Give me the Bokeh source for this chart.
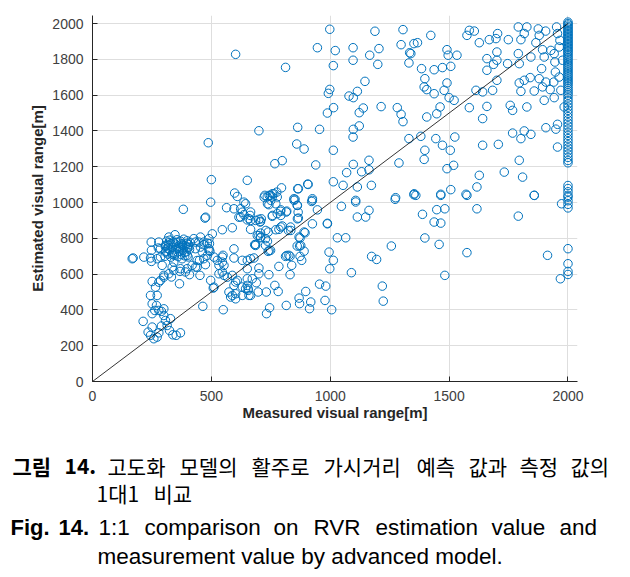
from bokeh.plotting import figure
from bokeh.layouts import column
from bokeh.models import Range1d, FixedTicker, ColumnDataSource
from bokeh.core.properties import value
from bokeh.embed import file_html
from bokeh.resources import INLINE

# ---------------- data ----------------
# measured (x) / estimated (y) in metres, grouped by region
meas_low = [602, 487, 500, 651, 598, 609, 637, 497, 476, 564, 595, 616, 630, 651, 546, 588, 504, 595, 483,
            382, 473, 623, 637, 630, 595, 549, 546, 532, 546, 553, 588, 602, 630, 655, 574, 602, 630, 581,
            508, 464, 550, 167, 171, 247, 248, 244, 248, 216, 277, 286, 293, 300, 286, 251, 244, 272, 269,
            262, 290, 300, 251, 213, 251, 234, 244, 258, 272, 279, 314, 324, 338, 352, 370, 290, 328, 307,
            332, 342, 366, 368, 391, 408, 452, 433, 450, 475, 483, 490, 462, 469, 447, 426, 405, 377, 347,
            321, 279, 307, 511, 525, 492, 623, 609, 588, 567, 595, 497, 511, 433, 468, 490, 494, 468, 440,
            419, 440, 398, 370, 335, 321, 300, 279, 265, 251, 279, 300, 286, 307, 272, 342, 377, 398, 433,
            454, 490, 454, 546, 553, 532, 602]
est_low = [1828, 1334, 1128, 1124, 1053, 1034, 1002, 1002, 918, 971, 965, 918, 946, 903, 848, 859, 825, 741, 773,
           962, 913, 965, 932, 677, 690, 705, 667, 649, 612, 593, 593, 556, 528, 518, 500, 490, 481, 472,
           522, 420, 401, 686, 690, 779, 733, 690, 671, 695, 746, 695, 649, 593, 565, 559, 481, 481, 425,
           397, 392, 369, 379, 336, 304, 276, 258, 239, 248, 272, 313, 285, 261, 258, 272, 310, 351, 341,
           584, 621, 546, 615, 612, 597, 593, 639, 677, 653, 705, 733, 723, 764, 779, 798, 751, 761, 820,
           807, 779, 761, 695, 677, 770, 919, 565, 481, 583, 537, 565, 527, 779, 779, 742, 727, 686, 676,
           649, 639, 630, 630, 639, 602, 583, 555, 527, 434, 397, 406, 742, 723, 686, 667, 686, 704, 742,
           751, 798, 807, 695, 649, 602, 462]

# dense cluster around 300-410 m measured
meas_cluster = [305, 318, 330, 345, 360, 372, 388, 402, 310, 325, 338, 352, 366, 380, 395, 408,
                306, 320, 335, 348, 362, 376, 390, 404, 312, 326, 340, 355, 370, 384, 398, 410,
                316, 344, 372, 400, 330, 386, 322, 352, 380, 396, 336, 364]
est_cluster = [700, 712, 695, 705, 698, 710, 702, 696, 728, 735, 722, 740, 728, 735, 725, 738,
               755, 762, 750, 768, 756, 770, 758, 765, 785, 790, 780, 792, 784, 795, 786, 778,
               745, 715, 748, 750, 770, 720, 775, 778, 762, 772, 710, 742]

meas_mid = [665, 665, 693, 665, 682, 700, 651, 644, 665, 722, 743, 757, 775, 795, 750, 736, 771, 792, 817,
            757, 792, 848, 866, 907, 862, 865, 925, 946, 862, 925, 988, 707, 729, 771, 792, 834, 707, 736,
            743, 686, 869, 890, 876, 817, 831, 873, 890, 995, 663, 686, 710, 705,
            1273, 1107, 1047, 1163, 1114, 1149, 988, 1030, 1065, 1257, 1174, 1195, 1013, 998, 1089, 1219,
            1223, 955, 981, 897, 869, 871, 918, 913, 978, 1006, 815, 745, 732, 781, 767, 731, 697, 658,
            655, 651, 689, 742, 831, 880, 838, 784, 812, 826, 700, 672, 651, 679, 651, 686, 728, 739, 749,
            861, 871, 873, 894, 824, 784, 798, 833, 700, 707, 739, 728, 852, 922, 861, 742, 791, 777, 815,
            866, 756, 700, 707, 658, 665, 644, 756, 777, 735,
            998, 1188, 1306, 946, 1021, 1096, 1205, 1298, 1334, 1352, 1166, 1096, 1013, 1200, 1331, 812,
            1146, 998, 992, 1079, 1114, 1097, 1014, 988, 1139, 1122, 1214, 1282, 1298, 1306, 700, 863,
            955, 1097, 1122, 1096, 1331, 859, 890, 1013, 767, 798, 939, 1097, 1163, 1069, 1132, 1163,
            1289, 905, 863, 1013, 1054, 1114, 1173, 763, 749, 725, 847, 925, 1107, 1275, 1352]
est_mid = [900, 850, 816, 686, 764, 602, 574, 518, 481, 1030, 1040, 1049, 1058, 1082, 1012, 993, 993, 959, 952,
           928, 928, 1012, 1077, 1101, 984, 946, 1012, 959, 909, 881, 881, 829, 844, 848, 863, 844, 803, 784,
           732, 766, 807, 835, 760, 704, 699, 699, 728, 723, 928, 900, 909, 891,
           1018, 1003, 979, 956, 919, 919, 884, 803, 803, 757, 699, 682, 677, 630, 608, 533,
           449, 544, 533, 503, 466, 435, 444, 407, 453, 401, 425, 412, 379, 503, 537, 500, 500, 481,
           509, 537, 552, 597, 597, 677, 649, 643, 699, 705, 634, 574, 630, 690, 677, 760, 760, 727, 733,
           757, 757, 802, 831, 844, 850, 869, 863, 816, 807, 835, 798, 1018, 1006, 984, 988, 951, 938, 947,
           913, 923, 906, 895, 910, 947, 993, 1031, 1031, 1031,
           1968, 1957, 1966, 1865, 1849, 1865, 1860, 1882, 1837, 1888, 1823, 1795, 1765, 1772, 1780, 1755,
           1677, 1632, 1610, 1595, 1621, 1586, 1530, 1500, 1528, 1502, 1536, 1530, 1493, 1452, 1401, 1420,
           1409, 1409, 1428, 1366, 1357, 1327, 1299, 1292, 1217, 1234, 1210, 1213, 1236, 1167, 1172, 1183,
           1221, 1103, 1077, 1116, 1096, 1087, 1096, 1049, 1040, 1040, 1021, 1021, 1012, 1027, 1044]

meas_high = [1423, 1367, 1339, 1585, 1606, 1575, 1627, 1669, 1697, 1704, 1749, 1791, 1827, 1802, 1816, 1875,
             1906, 1879, 1865, 1952, 1956, 1966, 1491, 1496, 1533, 1659, 1701, 1701, 1687, 1659, 1746, 1791,
             1795, 1844, 1893, 1900, 1928, 1942, 1945, 1947, 1889, 1879, 1841, 1893, 1907, 1940, 1925, 1942,
             1900, 1858, 1795, 1802, 1816, 1384, 1437, 1472, 1507, 1398, 1395, 1406, 1491, 1479, 1437, 1500,
             1521, 1462, 1448, 1406, 1613, 1641, 1683, 1701, 1585, 1659, 1641, 1757, 1767, 1827, 1381, 1444,
             1472, 1524, 1398, 1395, 1505, 1641, 1707, 1767, 1802, 1816, 1844, 1907, 1956, 1956, 1491, 1519,
             1795, 1627, 1732, 1809, 1353, 1465, 1507, 1571, 1617, 1858,
             1360, 1465, 1575, 1858, 1973, 1388, 1448, 1482, 1437, 1465, 1617, 1791, 1398, 1458, 1575,
             1914, 1968, 1482, 1963, 1977, 1963, 1970, 1984, 1949]
est_high = [1934, 1893, 1832, 1962, 1958, 1934, 1893, 1910, 1916, 1944, 1910, 1981, 1981, 1910, 1944, 1970,
            1958, 1934, 1893, 1981, 1944, 1906, 1854, 1823, 1823, 1804, 1841, 1795, 1772, 1739, 1776, 1832,
            1776, 1813, 1854, 1813, 1850, 1832, 1785, 1729, 1748, 1692, 1698, 1646, 1673, 1673, 1631, 1586,
            1571, 1623, 1668, 1621, 1683, 1748, 1742, 1754, 1761, 1692, 1646, 1631, 1668, 1627, 1608, 1586,
            1571, 1534, 1496, 1478, 1627, 1618, 1627, 1683, 1530, 1537, 1469, 1543, 1515, 1534, 1370, 1357,
            1320, 1366, 1292, 1241, 1292, 1320, 1325, 1388, 1357, 1400, 1381, 1418, 1437, 1310, 1189, 1208,
            1236, 1152, 1170, 1142, 1049, 1046, 1072, 1046, 1087, 1040,
            1040, 1040, 1040, 1040, 993, 934, 960, 965, 891, 885, 965, 924, 802, 766, 720,
            705, 574, 593, 1869, 1795, 1701, 1627, 1534, 1410]

# vertical column of points at measured = 2000 m
est_col = [2008, 2000, 1992, 1984, 1976, 1968, 1960, 1952, 1944, 1936, 1928, 1920, 1912, 1904, 1896, 1888,
           1880, 1872, 1864, 1856, 1848, 1840, 1830, 1820, 1810, 1800, 1790, 1780, 1770, 1760, 1750, 1740,
           1730, 1720, 1710, 1700, 1690, 1680, 1670, 1660, 1648, 1636, 1624, 1612, 1600,
           1585, 1568, 1550, 1533, 1515, 1498, 1480, 1462, 1445, 1428, 1410, 1392, 1375, 1357, 1340, 1322,
           1305, 1288, 1270, 1252, 1235, 1222, 1095, 1078, 1060, 1040, 1030, 1010, 990, 970,
           742, 658, 615, 598]
meas_col = [2000] * len(est_col)

# 1:1 reference line
ref_x = [0, 2000]
ref_y = [0, 2000]

x_ticks = [0, 500, 1000, 1500, 2000]
y_ticks = [0, 200, 400, 600, 800, 1000, 1200, 1400, 1600, 1800, 2000]

measured = meas_low + meas_cluster + meas_mid + meas_high + meas_col
estimated = est_low + est_cluster + est_mid + est_high + est_col

# ---------------- chart ----------------
FONT = "Liberation Sans"
p = figure(width=630, height=433, x_range=Range1d(0, 2040), y_range=Range1d(0, 2045),
           output_backend="svg", toolbar_location=None,
           min_border_left=92, min_border_right=53, min_border_top=15, min_border_bottom=52)
p.frame_align = False
p.outline_line_color = None
p.background_fill_color = "white"
p.border_fill_color = "white"

src = ColumnDataSource(dict(x=measured, y=estimated))
p.scatter("x", "y", source=src, marker="circle", size=8.5, fill_color=None,
          line_color="#0072BD", line_width=1.0)
p.line(ref_x, ref_y, line_color="black", line_width=0.8)

p.xaxis.ticker = FixedTicker(ticks=x_ticks)
p.yaxis.ticker = FixedTicker(ticks=y_ticks)
for ax in (p.xaxis[0], p.yaxis[0]):
    ax.axis_line_color = "#262626"
    ax.major_tick_line_color = "#262626"
    ax.major_tick_in = 5
    ax.major_tick_out = 0
    ax.minor_tick_line_color = None
    ax.major_label_text_font = FONT
    ax.major_label_text_font_size = "14px"
    ax.major_label_text_color = "#404040"
    ax.axis_label_text_font = FONT
    ax.axis_label_text_font_size = "15px"
    ax.axis_label_text_font_style = "bold"
    ax.axis_label_text_color = "#262626"
p.xaxis.axis_label = "Measured visual range[m]"
p.yaxis.axis_label = "Estimated visual range[m]"
p.xaxis.major_label_standoff = 9
p.yaxis.major_label_standoff = 9
p.xaxis.axis_label_standoff = 0
p.yaxis.axis_label_standoff = 3
p.xgrid.grid_line_color = "#dedede"
p.ygrid.grid_line_color = "#dedede"

# ---------------- caption ----------------
cap = figure(width=630, height=144, x_range=Range1d(0, 630), y_range=Range1d(144, 0),
             output_backend="svg", toolbar_location=None,
             min_border=0, min_border_left=0, min_border_right=0, min_border_top=0, min_border_bottom=0)
cap.frame_align = False
cap.outline_line_color = None
cap.xgrid.visible = False
cap.ygrid.visible = False
cap.xaxis.visible = False
cap.yaxis.visible = False

KR = "Noto Sans CJK KR"
kr_bold = dict(x=[12, 64], y=[32, 32], t=["그림", "14."])
cap.text("x", "y", text="t", source=ColumnDataSource(kr_bold), text_font=value(KR),
         text_font_style="bold", text_font_size="21px", text_baseline="middle", text_color="black")
kr_words = dict(x=[107, 179, 251, 323, 416, 468, 519, 570, 96, 153],
                y=[32, 32, 32, 32, 32, 32, 32, 32, 59, 59],
                t=["고도화", "모델의", "활주로", "가시거리", "예측", "값과", "측정", "값의", "1대1", "비교"])
cap.text("x", "y", text="t", source=ColumnDataSource(kr_words), text_font=value(KR),
         text_font_size="21px", text_baseline="middle", text_color="black")

en_bold = dict(x=[10, 58], y=[94, 94], t=["Fig.", "14."])
cap.text("x", "y", text="t", source=ColumnDataSource(en_bold), text_font=value(FONT),
         text_font_style="bold", text_font_size="22px", text_baseline="middle", text_color="black")
en_words = dict(x=[98, 144, 273, 313, 375, 491, 559, 97],
                y=[94, 94, 94, 94, 94, 94, 94, 123],
                t=["1:1", "comparison", "on", "RVR", "estimation", "value", "and",
                   "measurement value by advanced model."])
cap.text("x", "y", text="t", source=ColumnDataSource(en_words), text_font=value(FONT),
         text_font_size="22.5px", text_baseline="middle", text_color="black")

layout = column(p, cap, spacing=0)
open("out.html", "w").write(file_html(layout, INLINE))
